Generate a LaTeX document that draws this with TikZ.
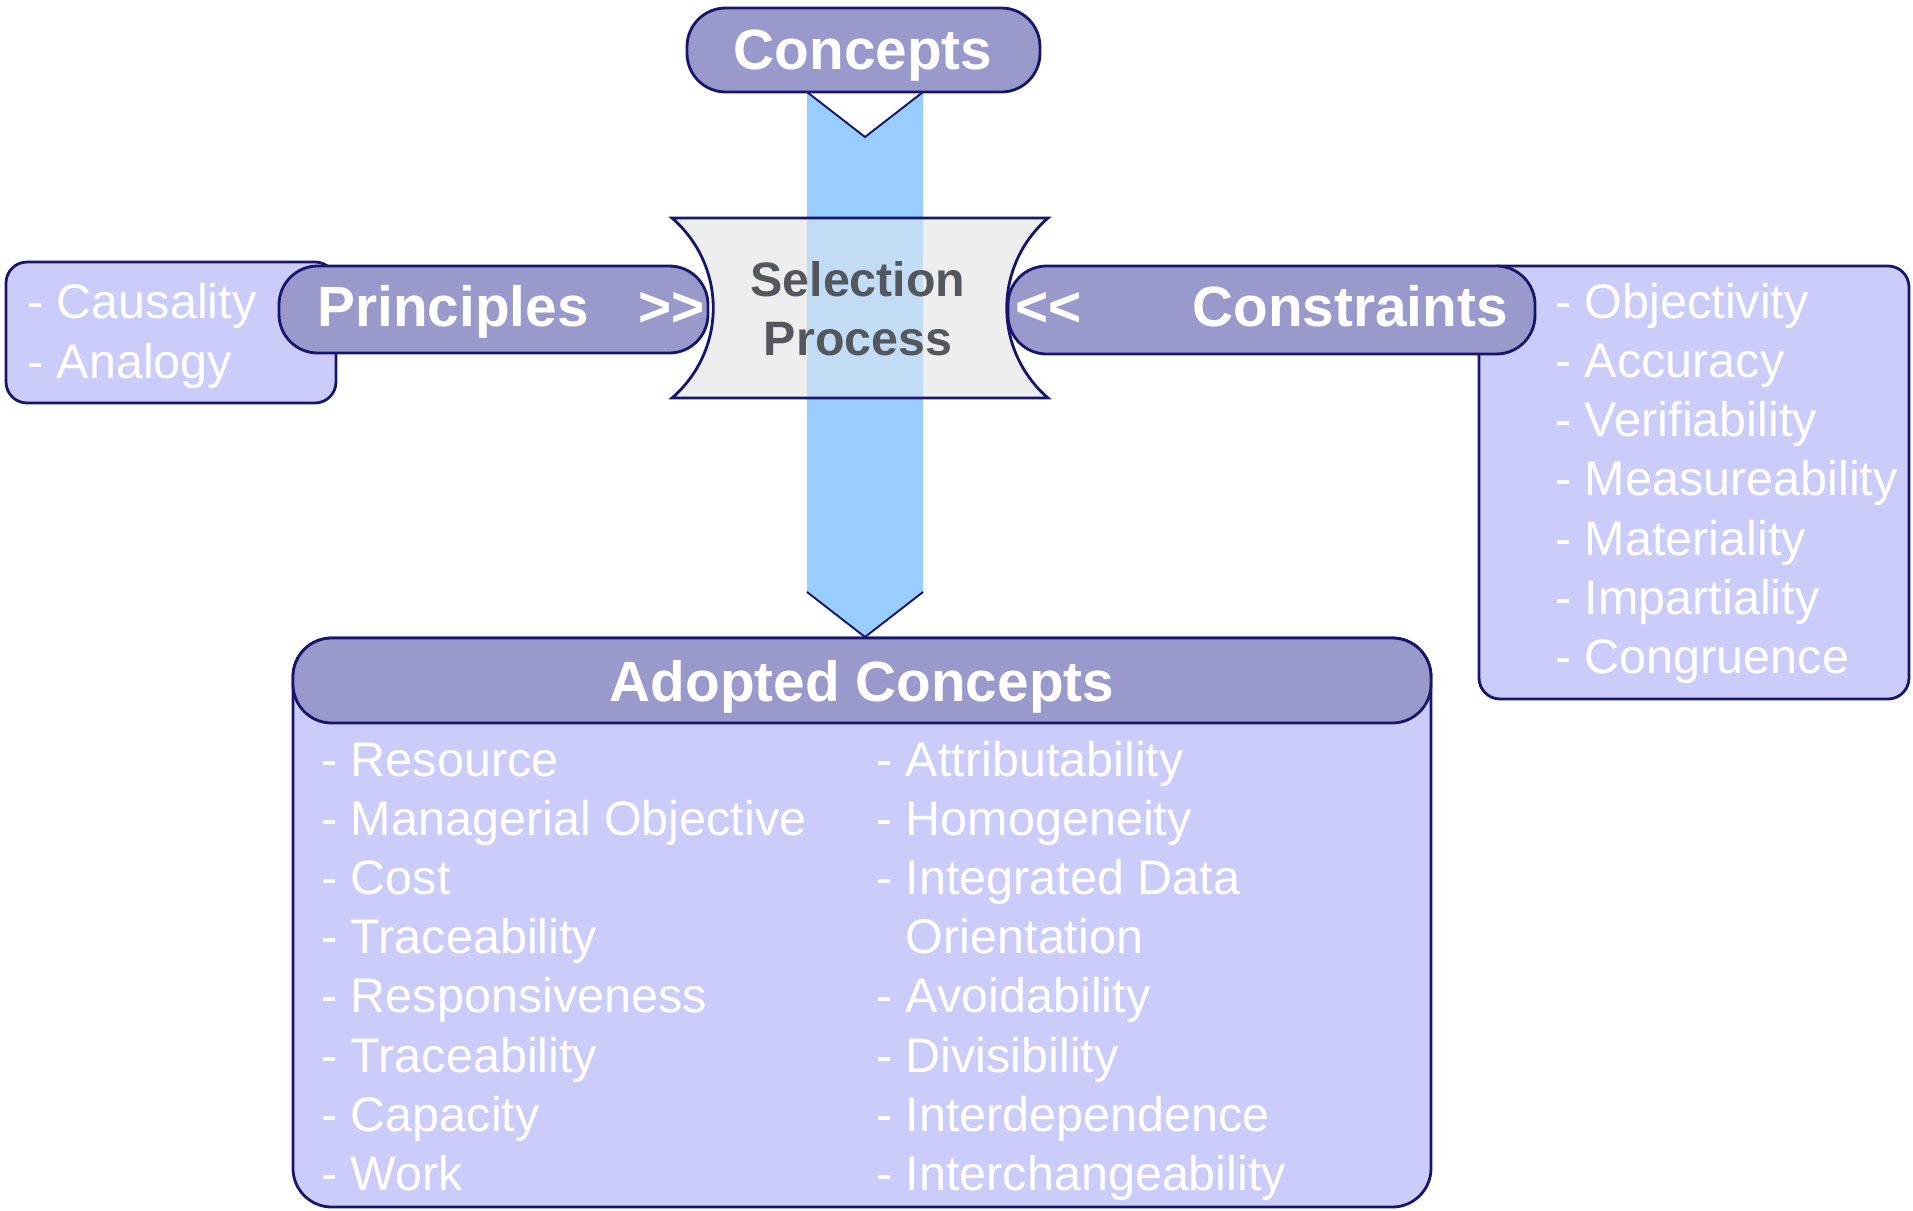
\documentclass[tikz,border=0pt]{standalone}
\usepackage{fontspec}
\setmainfont{Liberation Sans}

\definecolor{navy}{HTML}{16166E}
\definecolor{lavender}{HTML}{CCCCFA}
\definecolor{slate}{HTML}{9999CC}
\definecolor{skyblue}{HTML}{99CCFF}
\definecolor{pale}{HTML}{EEEEEE}
\definecolor{ink}{HTML}{53575E}

\tikzset{
  pill/.style={draw=navy,fill=slate,line width=1.6pt,rounded corners=22pt},
  listbox/.style={draw=navy,fill=lavender,line width=1.6pt,rounded corners=12pt},
  title/.style={text=white,font=\bfseries\fontsize{32.3}{38}\selectfont,inner sep=0pt,anchor=base},
  item/.style={text=white,font=\fontsize{27.6}{33}\selectfont,inner sep=0pt,anchor=base west},
  seltext/.style={text=ink,font=\bfseries\fontsize{27.5}{33}\selectfont,inner sep=0pt,anchor=base}
}

\begin{document}
\begin{tikzpicture}[x=0.02cm,y=-0.02cm]
\useasboundingbox (0,0) rectangle (1913,1210);

% principles on the left
\draw[listbox] (6,262) rectangle (336,403);
\node(causality) [item] at (27,318) {- Causality};
\node(analogy) [item] at (27,378) {- Analogy};
\draw[pill] (279,266) rectangle (708,353);
\node(principles) [title,anchor=base west] at (317,326) {Principles};
\node(rightmarks) [title,anchor=base west] at (638,326) {\mbox{>}\mbox{>}};

% the flow arrow
\fill[skyblue] (807,92) -- (865,137) -- (923,92) -- (923,592) -- (865,637) -- (807,592) -- cycle;
\draw[navy,line width=1.1pt] (807,92) -- (865,137) -- (923,92);
\draw[navy,line width=1.1pt] (807,592) -- (865,637) -- (923,592);

% selection process
\fill[pale] (672,218) -- (1048,218) .. controls (993,266) and (993,350) .. (1048,398) -- (672,398) .. controls (727,350) and (727,266) .. (672,218) -- cycle;
\fill[skyblue,fill opacity=.5] (807,218) rectangle (923,398);
\draw[navy,line width=1.6pt] (672,218) -- (1048,218) .. controls (993,266) and (993,350) .. (1048,398) -- (672,398) .. controls (727,350) and (727,266) .. (672,218) -- cycle;
\node(selection) [seltext] at (858,296) {Selection};
\node(process) [seltext] at (858,355) {Process};

% concepts on top
\draw[pill] (687,8) rectangle (1040,92);
\node(concepts) [title] at (863,69) {Concepts};

% constraints on the right
\draw[listbox] (1479,266) rectangle (1909,699);
\foreach \txt [count=\i from 0] in {Objectivity,Accuracy,Verifiability,Measureability,Materiality,Impartiality,Congruence}
  \node(constr\i) [item] at (1555,{318+59.3*\i}) {- \txt};
\draw[pill] (1008,266) rectangle (1535,354);
\node(leftmarks) [title,anchor=base west] at (1015,326) {\mbox{<}\mbox{<}};
\node(constraints) [title,anchor=base east] at (1508,326) {Constraints};

% adopted concepts
\draw[listbox,rounded corners=22pt] (293,638) rectangle (1431,1207);
\draw[pill] (293,638) rectangle (1431,723);
\node(adopted) [title] at (862,701) {Adopted Concepts};
\foreach \txt [count=\i from 0] in {Resource,Managerial Objective,Cost,Traceability,Responsiveness,Traceability,Capacity,Work}
  \node(left\i) [item] at (321,{776+59.2*\i}) {- \txt};
\foreach \txt [count=\i from 0] in {- Attributability,- Homogeneity,- Integrated Data,\phantom{- }Orientation,- Avoidability,- Divisibility,- Interdependence,- Interchangeability}
  \node(right\i) [item] at (876,{776+59.2*\i}) {\txt};
\end{tikzpicture}
\end{document}
